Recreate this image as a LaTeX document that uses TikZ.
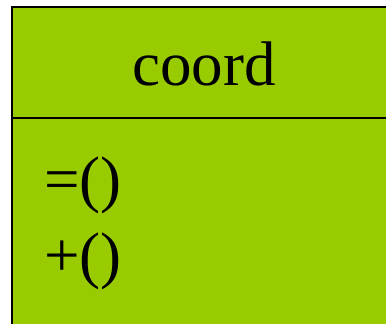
\documentclass[tikz,border=0pt]{standalone}
\usepackage{fontspec}
\setmainfont{Liberation Serif}
\usepackage{xcolor}
\definecolor{classgreen}{RGB}{153, 204, 0}
\usetikzlibrary{positioning}

\begin{document}
\begin{tikzpicture}[x=1pt,y=1pt,
    classtext/.style={inner sep=0pt, font=\fontsize{63}{75}\selectfont}]
    \useasboundingbox (0,0) rectangle (386,-324);

    % Class box (cut off at the right and bottom)
    \fill[classgreen] (12,-7) rectangle (400,-340);
    \draw[line width=1.3pt] (400,-7) -- (12,-7) -- (12,-340);
    \draw[line width=1.3pt] (12,-118) -- (400,-118);

    % Name
    \node[classtext, anchor=base] (name) at (204,-85) {coord};

    % Operations
    \node[classtext, anchor=base west] (opeq) at (44,-200) {=()};
    \node[classtext, anchor=base west] (opplus) at (44,-276) {+()};
\end{tikzpicture}
\end{document}
